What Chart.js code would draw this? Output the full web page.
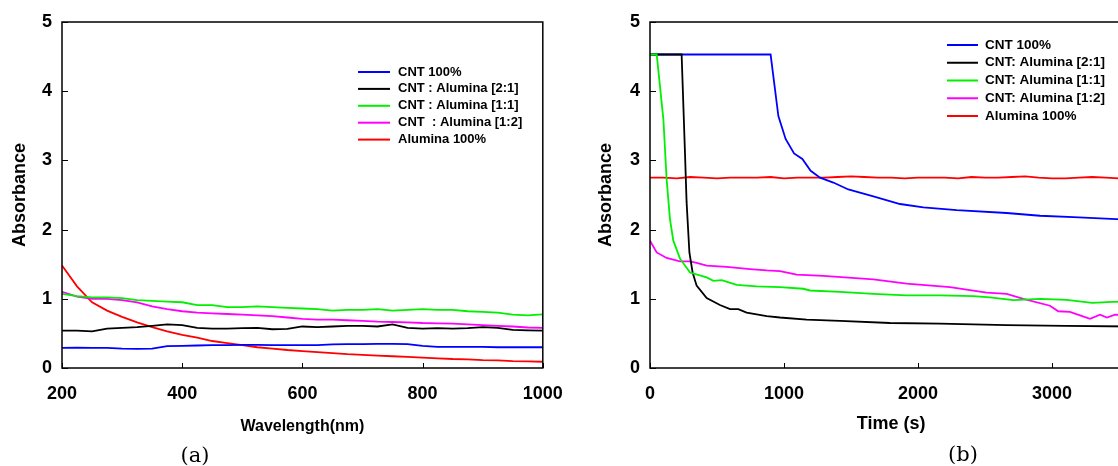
<html lang="en">
<head>
<meta charset="utf-8">
<script src="https://cdn.jsdelivr.net/npm/chart.js"></script>
<style>
    html, body {
        margin: 0;
        background: white;
        overflow: hidden;
        width: 1118px;
        height: 466px;
    }
    #wrapA { position: absolute; left: 0; top: 0; }
    #wrapB { position: absolute; left: 560px; top: 0; }
    .panel-tag {
        position: absolute;
        font: 21px "DejaVu Serif", "Liberation Serif", serif;
        transform: translate(-50%, -50%);
        color: #000;
    }
</style>
</head>
<body>

<div id="wrapA"><canvas id="chartA" width="590" height="466"></canvas></div>
<div id="wrapB"><canvas id="chartB" width="600" height="466"></canvas></div>
<div class="panel-tag" style="left:195px; top:455px">(a)</div>
<div class="panel-tag" style="left:963px; top:454px">(b)</div>

<script>
    // ---- (a) UV-vis spectra ----
    const wavelength = [200,225,250,275,300,325,350,375,400,425,450,475,500,525,550,575,600,
                        625,650,675,700,725,750,775,800,825,850,875,900,925,950,975,1000];
    const specCNT   = [0.29,0.295,0.29,0.29,0.28,0.275,0.28,0.315,0.32,0.325,0.33,0.33,0.335,0.335,0.33,0.33,0.33,
                       0.33,0.34,0.345,0.345,0.35,0.35,0.345,0.32,0.305,0.305,0.305,0.305,0.30,0.30,0.30,0.30];
    const spec21    = [0.54,0.54,0.53,0.57,0.58,0.59,0.61,0.63,0.62,0.58,0.57,0.57,0.575,0.58,0.56,0.565,0.60,
                       0.59,0.60,0.61,0.61,0.60,0.63,0.58,0.57,0.575,0.57,0.575,0.59,0.58,0.55,0.545,0.54];
    const spec11    = [1.07,1.04,1.02,1.02,1.01,0.98,0.97,0.96,0.95,0.91,0.91,0.88,0.88,0.89,0.88,0.87,0.86,
                       0.85,0.83,0.84,0.84,0.85,0.83,0.84,0.85,0.84,0.84,0.82,0.81,0.80,0.77,0.76,0.775];
    const spec12    = [1.10,1.03,1.00,1.00,0.98,0.95,0.89,0.85,0.82,0.80,0.79,0.78,0.77,0.76,0.75,0.73,0.71,
                       0.70,0.70,0.69,0.68,0.67,0.665,0.66,0.65,0.645,0.64,0.63,0.62,0.61,0.60,0.585,0.58];
    const specAl    = [1.48,1.18,0.95,0.83,0.74,0.66,0.59,0.53,0.48,0.44,0.39,0.36,0.33,0.30,0.28,0.26,0.245,
                       0.23,0.215,0.20,0.19,0.18,0.17,0.16,0.15,0.14,0.13,0.125,0.115,0.11,0.10,0.095,0.09];
    const labelsA = ['CNT 100%', 'CNT : Alumina [2:1]', 'CNT : Alumina [1:1]', 'CNT  : Alumina [1:2]', 'Alumina 100%'];
    const ticksA = [200, 400, 600, 800, 1000];

    // ---- (b) absorbance vs time ----
    const timeCNT = [0,900,958,1012,1075,1137,1199,1269,1368,1480,1667,1866,2040,2289,2662,2910,3159,3400,3600];
    const absCNT  = [4.53,4.53,3.64,3.31,3.10,3.02,2.85,2.75,2.68,2.58,2.48,2.37,2.32,2.28,2.24,2.20,2.18,2.16,2.14];
    const time21 = [0,236,261,273,294,318,348,423,522,597,659,721,871,970,1169,1418,1791,2164,2662,3100,3600];
    const abs21  = [4.53,4.53,3.11,2.40,1.67,1.38,1.19,1.01,0.91,0.85,0.85,0.80,0.75,0.73,0.70,0.68,0.65,0.64,0.62,0.61,0.60];
    const time11 = [0,50,100,124,149,174,224,299,423,473,535,647,796,970,1144,1194,1418,1667,1915,2164,2413,2537,2711,2910,3109,3300,3450,3600];
    const abs11  = [4.53,4.53,3.59,2.73,2.15,1.84,1.58,1.38,1.31,1.26,1.27,1.20,1.18,1.17,1.145,1.12,1.10,1.07,1.05,1.05,1.04,1.02,0.98,1.00,0.985,0.94,0.955,0.96];
    const time12 = [0,50,124,224,299,348,423,572,746,871,970,1095,1294,1667,1915,2239,2512,2662,2786,2985,3047,3134,3209,3284,3358,3410,3470,3600];
    const abs12  = [1.84,1.67,1.59,1.54,1.54,1.52,1.48,1.46,1.43,1.41,1.40,1.35,1.33,1.28,1.22,1.17,1.09,1.07,1.00,0.90,0.82,0.81,0.76,0.71,0.77,0.73,0.77,0.76];
    const timeAl = [0,100,200,300,400,500,600,700,800,900,1000,1100,1200,1300,1400,1500,1600,1700,1800,
                    1900,2000,2100,2200,2300,2400,2500,2600,2700,2800,2900,3000,3100,3200,3300,3400,3500,3600];
    const absAl  = [2.75,2.75,2.74,2.76,2.75,2.74,2.75,2.75,2.75,2.76,2.74,2.75,2.75,2.75,2.76,2.77,2.76,2.75,2.75,
                    2.74,2.75,2.75,2.75,2.74,2.76,2.75,2.75,2.76,2.77,2.75,2.74,2.74,2.75,2.76,2.75,2.74,2.75];
    const labelsB = ['CNT 100%', 'CNT: Alumina [2:1]', 'CNT: Alumina [1:1]', 'CNT: Alumina [1:2]', 'Alumina 100%'];
    const ticksB = [0, 1000, 2000, 3000];

    const ticksY = [0, 1, 2, 3, 4, 5];
    const colors = ['#0000ff', '#000000', '#00f000', '#ff00ff', '#ff0000'];

    const boldFont = '"Liberation Sans", Arial, sans-serif';

    function pairs(xs, ys) {
        return xs.map((x, i) => ({x: x, y: ys[i]}));
    }

    // frame around the plot plus inward tick marks on left and bottom axes
    const frameTicks = {
        id: 'frameTicks',
        afterDraw(chart) {
            const ctx = chart.ctx;
            const a = chart.chartArea;
            const xs = chart.scales.x, ys = chart.scales.y;
            ctx.save();
            ctx.strokeStyle = '#000';
            ctx.lineWidth = 1.5;
            ctx.strokeRect(a.left, a.top, a.right - a.left, a.bottom - a.top);
            ctx.lineWidth = 1;
            ctx.beginPath();
            xs.ticks.forEach(t => {
                const px = Math.round(xs.getPixelForValue(t.value)) + 0.5;
                ctx.moveTo(px, a.bottom);
                ctx.lineTo(px, a.bottom - 5);
            });
            ys.ticks.forEach(t => {
                const py = Math.round(ys.getPixelForValue(t.value)) + 0.5;
                ctx.moveTo(a.left, py);
                ctx.lineTo(a.left + 6, py);
            });
            ctx.stroke();
            ctx.restore();
        }
    };

    // hand placed legend, like the original figure
    const lineLegend = {
        id: 'lineLegend',
        afterDraw(chart, args, opts) {
            const ctx = chart.ctx;
            ctx.save();
            ctx.font = opts.font;
            ctx.textBaseline = 'middle';
            ctx.textAlign = 'left';
            opts.labels.forEach((label, i) => {
                const ds = chart.data.datasets[i];
                const y = opts.y + i * opts.step;
                ctx.strokeStyle = ds.borderColor;
                ctx.lineWidth = 2;
                ctx.beginPath();
                ctx.moveTo(opts.x, y);
                ctx.lineTo(opts.x + opts.len, y);
                ctx.stroke();
                ctx.fillStyle = '#000';
                ctx.fillText(label, opts.x + opts.len + opts.gap, y);
            });
            ctx.restore();
        }
    };

    function makeChart(id, datasets, cfg) {
        return new Chart(document.getElementById(id), {
            type: 'line',
            data: { datasets: datasets },
            plugins: [frameTicks, lineLegend],
            options: {
                responsive: false,
                animation: false,
                devicePixelRatio: 1,
                layout: { padding: { left: 0, top: 22, right: cfg.padRight, bottom: 0 } },
                elements: { point: { radius: 0 }, line: { tension: 0, borderWidth: 1.8 } },
                plugins: {
                    legend: { display: false },
                    tooltip: { enabled: false },
                    lineLegend: cfg.legend
                },
                scales: {
                    x: {
                        type: 'linear',
                        min: cfg.xMin, max: cfg.xMax,
                        afterBuildTicks: s => { s.ticks = cfg.xTicks.map(v => ({value: v})); },
                        afterFit: s => { s.height = 98; },
                        grid: { display: false, drawTicks: false },
                        border: { display: false },
                        ticks: {
                            padding: 15, color: '#000',
                            font: { family: boldFont, size: 18, weight: 'bold' },
                            callback: v => String(v)
                        },
                        title: {
                            display: true, text: cfg.xTitle, color: '#000',
                            font: { family: boldFont, size: cfg.xTitleSize, weight: 'bold' },
                            padding: { top: 0, bottom: cfg.xTitlePad }
                        }
                    },
                    y: {
                        type: 'linear',
                        min: 0, max: 5,
                        afterBuildTicks: s => { s.ticks = ticksY.map(v => ({value: v})); },
                        afterFit: s => { s.width = cfg.yWidth; },
                        grid: { display: false, drawTicks: false },
                        border: { display: false },
                        ticks: {
                            padding: 10, color: '#000',
                            font: { family: boldFont, size: 18, weight: 'bold' },
                            callback: v => String(v)
                        },
                        title: {
                            display: true, text: 'Absorbance', color: '#000',
                            font: { family: boldFont, size: 18, weight: 'bold' },
                            padding: { top: cfg.yTitlePad, bottom: 0 }
                        }
                    }
                }
            }
        });
    }

    // draw order: green over black over blue, as in the figure
    const stackOrder = [2, 1, 0, 3, 4];

    const seriesA = [specCNT, spec21, spec11, spec12, specAl];
    makeChart('chartA', seriesA.map((s, i) => ({
        label: labelsA[i],
        data: pairs(wavelength, s),
        borderColor: colors[i],
        order: stackOrder[i]
    })), {
        padRight: 47.2, yWidth: 62, yTitlePad: 9,
        xMin: 200, xMax: 1000, xTicks: ticksA,
        xTitle: 'Wavelength(nm)', xTitleSize: 16, xTitlePad: 30,
        legend: { labels: labelsA, x: 358, y: 72, step: 16.9, len: 32, gap: 8, font: 'bold 13px ' + boldFont }
    });

    const timesB = [timeCNT, time21, time11, time12, timeAl];
    const seriesB = [absCNT, abs21, abs11, abs12, absAl];
    makeChart('chartB', seriesB.map((s, i) => ({
        label: labelsB[i],
        data: pairs(timesB[i], s),
        borderColor: colors[i],
        order: stackOrder[i]
    })), {
        padRight: 27.6, yWidth: 90, yTitlePad: 35,
        xMin: 0, xMax: 3600, xTicks: ticksB,
        xTitle: 'Time (s)', xTitleSize: 18, xTitlePad: 31,
        legend: { labels: labelsB, x: 387, y: 45, step: 17.75, len: 31, gap: 7, font: 'bold 13.5px ' + boldFont }
    });
</script>
</body>
</html>
